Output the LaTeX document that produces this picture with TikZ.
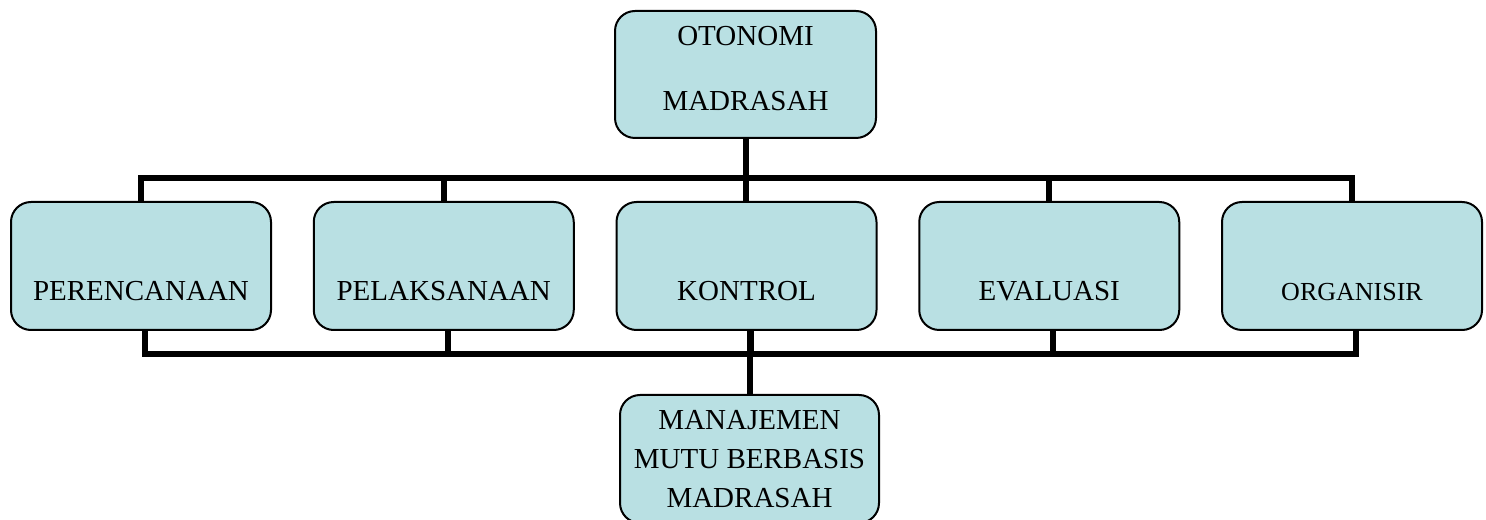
\documentclass[tikz,border=0pt]{standalone}
\usepackage{fontspec}
\setmainfont{Liberation Serif}
\usetikzlibrary{calc}
\definecolor{boxfill}{RGB}{185,224,227}

\begin{document}
\begin{tikzpicture}[x=0.5pt, y=0.5pt,
	box/.style={draw=black, fill=boxfill, rounded corners=10pt, line width=1pt, inner sep=0pt},
	stepbox/.style={box, minimum width=130pt, text height=49.5pt, text depth=14.5pt, font=\fontsize{14.5}{17}\selectfont},
	bus/.style={black, line width=3pt}]
	\useasboundingbox (0,0) rectangle (1486,519);

	\node[box, minimum width=130.5pt, minimum height=63.5pt, align=center, font=\fontsize{14.5}{32.5}\selectfont] (otonomi) at (745.5,444.5) {OTONOMI\\MADRASAH\rule[-6pt]{0pt}{6pt}};

	\foreach \i/\name/\txt in {0/perencanaan/PERENCANAAN, 1/pelaksanaan/PELAKSANAAN, 2/kontrol/KONTROL, 3/evaluasi/EVALUASI}
		\node[stepbox] (\name) at (141+302.75*\i, 253) {\txt};
	\node[stepbox, font=\fontsize{13}{16}\selectfont] (organisir) at (1352,253) {ORGANISIR};

	\node[box, minimum width=129.5pt, minimum height=64pt, align=center, font=\fontsize{14.5}{19.5}\selectfont] (mmbm) at (749.5,60) {MANAJEMEN\\MUTU BERBASIS\\MADRASAH};

	% upper bus
	\coordinate (upper) at (0,341);
	\draw[bus] (perencanaan.north) -- (perencanaan.north |- upper) -- (organisir.north |- upper) -- (organisir.north);
	\foreach \name in {pelaksanaan, evaluasi}
		\draw[bus] (\name.north) -- (\name.north |- upper);
	\draw[bus] (otonomi.south) -- (otonomi.south |- kontrol.north);

	% lower bus
	\coordinate (lower) at (0,165);
	\draw[bus] ([xshift=2pt]perencanaan.south) -- ([xshift=2pt]perencanaan.south |- lower) -- ([xshift=2pt]organisir.south |- lower) -- ([xshift=2pt]organisir.south);
	\foreach \name in {pelaksanaan, kontrol, evaluasi}
		\draw[bus] ([xshift=2pt]\name.south) -- ([xshift=2pt]\name.south |- lower);
	\draw[bus] (mmbm.north) -- (mmbm.north |- kontrol.south);
\end{tikzpicture}
\end{document}
